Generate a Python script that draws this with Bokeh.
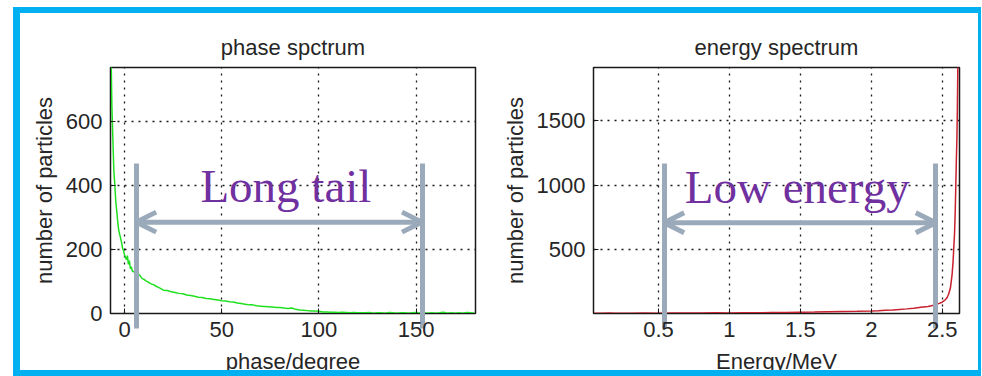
from bokeh.plotting import figure
from bokeh.layouts import row
from bokeh.models import (FixedTicker, CustomJSTickFormatter, Arrow, OpenHead,
                          Label, Range1d, InlineStyleSheet)
from bokeh.embed import file_html
from bokeh.resources import INLINE

SANS = "Liberation Sans"
SERIF = "Liberation Serif"
INK = "#262626"
FRAME_BLUE = "#00b0f0"
STEEL = "#9aaaba"
PURPLE = "#7030a0"

# ---- phase spectrum (degrees vs particle count) ----
phase_deg = ([-7.0, -6.8, -6.5, -6.2, -5.8, -5.5, -5.0, -4.5, -4.0, -3.5, -3.0,
              -2.5, -2.0, -1.5, -1.0, -0.5, 0.0, 0.5, 1.0, 1.5, 2.0, 2.5, 3.0, 3.5]
             + list(range(4, 17)) + list(range(18, 181, 2)))
phase_counts = [980, 770, 650, 590, 510, 450, 405, 352, 322, 288, 262,
                248, 236, 222, 205, 196, 184, 176, 168, 181, 154, 166, 140, 147,
                133, 130, 127, 124, 118, 110, 107, 102, 99, 95, 92, 90, 86,
                80, 73, 72, 68, 66, 63, 62, 58, 56, 54,
                51, 50, 47, 46, 44, 42, 40, 39, 37, 36,
                33, 31, 29, 27, 27, 24, 23, 22, 21, 20,
                19, 19, 17, 16, 17, 13, 11, 10, 9, 8,
                8, 7, 5, 5, 4, 4, 3, 4, 3, 2,
                3, 2,
                2, 2, 3, 1, 2, 2, 1, 3, 2, 1, 2, 2, 1, 2, 3,
                1, 2, 1, 2, 1, 2, 4, 1, 2, 1, 2, 1, 3, 2, 1]

# ---- energy spectrum (MeV vs particle count) ----
energy_mev = [0.04, 0.1, 0.15, 0.2, 0.3, 0.4, 0.5, 0.6, 0.7, 0.8, 0.9, 1.0,
              1.1, 1.2, 1.3, 1.4, 1.5, 1.6, 1.7, 1.8, 1.9, 2.0, 2.05, 2.1,
              2.15, 2.2, 2.25, 2.3, 2.35, 2.4, 2.44, 2.47, 2.5, 2.52, 2.535,
              2.545, 2.558, 2.57, 2.577, 2.582, 2.587, 2.592, 2.596, 2.6,
              2.604, 2.607, 2.61, 2.614, 2.62]
energy_counts = [2, 1, 3, 1, 2, 3, 2, 3, 4, 3, 5, 4,
                 6, 5, 7, 8, 10, 11, 13, 15, 17, 20, 22, 25,
                 28, 32, 36, 41, 48, 55, 65, 75, 88, 105, 125,
                 150, 200, 305, 410, 520, 620, 800, 1000, 1200,
                 1380, 1600, 1900, 2300, 2600]

phase_ticks = [0, 50, 100, 150]
phase_count_ticks = [0, 200, 400, 600]
energy_ticks = [0.5, 1, 1.5, 2, 2.5]
energy_count_ticks = [500, 1000, 1500]

# bracket annotations: bar positions, arrow height, caption (text, x, y)
phase_window = [6, 153]
phase_arrow_y = 286
phase_caption = ("Long tail", 83, 398)

energy_window = [0.54, 2.455]
energy_arrow_y = 706
energy_caption = ("Low energy", 1.478, 987)

# bracket bars are drawn as long minor ticks on the x axis (px above/below frame)
BAR_UP = 150
BAR_DOWN = 15


def panel(title, xlabel, xr, yr, xticks, yticks, bars, width,
          border_left, border_right):
    p = figure(width=width, height=363, output_backend="svg", toolbar_location=None,
               x_range=Range1d(*xr), y_range=Range1d(*yr),
               min_border_left=border_left, min_border_right=border_right,
               min_border_top=54, min_border_bottom=63,
               background_fill_color="white", border_fill_color="white")
    p.title.text = title
    p.title.text_font = SANS
    p.title.text_font_size = "22px"
    p.title.text_font_style = "normal"
    p.title.text_color = INK
    p.title.align = "center"
    p.title.standoff = 16

    p.xaxis.ticker = FixedTicker(ticks=xticks, minor_ticks=bars)
    p.yaxis.ticker = FixedTicker(ticks=yticks)
    for ax in (p.xaxis[0], p.yaxis[0]):
        ax.major_label_text_font = SANS
        ax.major_label_text_font_size = "22px"
        ax.major_label_text_color = INK
        ax.major_label_standoff = 8
        ax.axis_label_text_font = SANS
        ax.axis_label_text_font_size = "22px"
        ax.axis_label_text_font_style = "normal"
        ax.axis_label_text_color = INK
        ax.axis_label_standoff = 6
        ax.axis_line_color = "#1a1a1a"
        ax.major_tick_in = 5
        ax.major_tick_out = 0
        ax.major_tick_line_color = "#1a1a1a"
    p.yaxis.minor_tick_line_color = None
    p.xaxis.minor_tick_line_color = STEEL
    p.xaxis.minor_tick_line_width = 5
    p.xaxis.minor_tick_in = BAR_UP
    p.xaxis.minor_tick_out = BAR_DOWN
    # the long minor ticks push the labels down; pull them back up
    p.xaxis.major_label_standoff = 8 - BAR_DOWN
    p.xaxis.axis_label = xlabel
    p.yaxis.axis_label = "number of particles"
    p.xaxis.axis_label_standoff = 9

    p.xgrid.ticker = FixedTicker(ticks=xticks)
    p.ygrid.ticker = FixedTicker(ticks=yticks)
    for g in (p.xgrid[0], p.ygrid[0]):
        g.grid_line_color = "#1a1a1a"
        g.grid_line_width = 1.3
        g.grid_line_dash = "2 5"

    p.outline_line_color = "#1a1a1a"
    p.outline_line_width = 1.5
    p.outline_line_alpha = 1
    return p


def bracket(p, window, arrow_y, caption):
    head = dict(size=20, line_color=STEEL, line_width=5)
    p.add_layout(Arrow(x_start=window[0], x_end=window[1],
                       y_start=arrow_y, y_end=arrow_y,
                       start=OpenHead(**head), end=OpenHead(**head),
                       line_color=STEEL, line_width=5))
    text, cx, cy = caption
    p.add_layout(Label(x=cx, y=cy, text=text, text_font=SERIF,
                       text_font_size="47px", text_color=PURPLE,
                       text_align="center", text_baseline="middle"))


p1 = panel("phase spctrum", "phase/degree", (-7.2, 180.5), (0, 770),
           phase_ticks, phase_count_ticks, phase_window, 471, 90, 16)
p1.line(phase_deg, phase_counts, line_color="#1ee01e", line_width=1.5)
bracket(p1, phase_window, phase_arrow_y, phase_caption)

p2 = panel("energy spectrum", "Energy/MeV", (0.042, 2.622), (0, 1915),
           energy_ticks, energy_count_ticks, energy_window, 487, 102, 19)
p2.xaxis.formatter = CustomJSTickFormatter(code="return tick.toString();")
p2.line(energy_mev, energy_counts, line_color="#c8202e", line_width=1.5)
bracket(p2, energy_window, energy_arrow_y, energy_caption)

# light-blue frame around both panels; the bottom edge is laid over the
# canvases so that it trims the axis-label descenders
bottom_edge = InlineStyleSheet(css=f"""
:host {{ position: relative; }}
:host::after {{
  content: ""; position: absolute; left: 0; right: 0; bottom: 0;
  height: 6px; background: {FRAME_BLUE}; z-index: 100; pointer-events: none;
}}
""")
layout = row(p1, p2, styles={
    "margin-left": "13px", "margin-top": "7px",
    "border-left": f"7px solid {FRAME_BLUE}",
    "border-top": f"6px solid {FRAME_BLUE}",
    "border-right": f"3px solid {FRAME_BLUE}",
}, stylesheets=[bottom_edge])
open("out.html", "w").write(file_html(layout, INLINE))
